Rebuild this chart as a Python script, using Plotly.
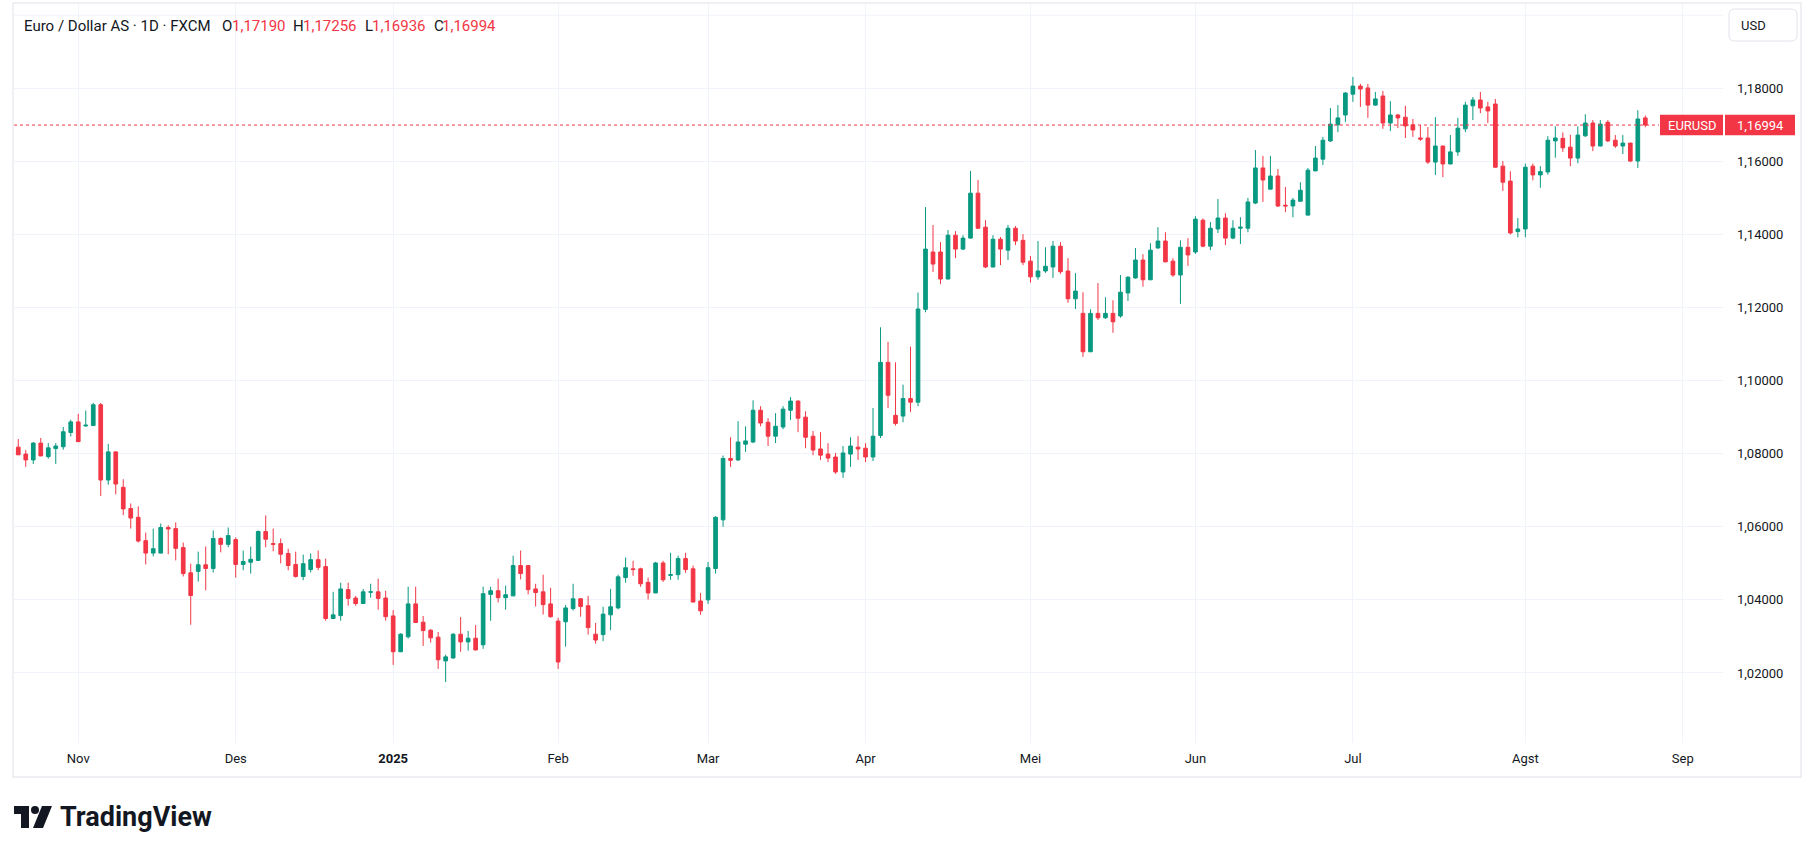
import pandas as pd
import plotly.graph_objects as go

# EUR/USD daily candles, FXCM, 22 Oct 2024 - 25 Aug 2025
opens = [
    1.0818, 1.0799, 1.0783, 1.0829, 1.0792, 1.0814, 1.0819, 1.0858, 1.0887, 1.0876,
    1.0877, 1.0934, 1.0728, 1.0805, 1.0708, 1.0650, 1.0626, 1.0562, 1.0528, 1.0528,
    1.0598, 1.0595, 1.0543, 1.0474, 1.0478, 1.0496, 1.0486, 1.0568, 1.0552, 1.0565,
    1.0497, 1.0503, 1.0508, 1.0587, 1.0554, 1.0554, 1.0527, 1.0497, 1.0464, 1.0483,
    1.0510, 1.0491, 1.0349, 1.0357, 1.0428, 1.0405, 1.0390, 1.0421, 1.0422, 1.0405,
    1.0356, 1.0258, 1.0299, 1.0389, 1.0339, 1.0317, 1.0298, 1.0233, 1.0241, 1.0306,
    1.0285, 1.0295, 1.0277, 1.0415, 1.0425, 1.0406, 1.0411, 1.0494, 1.0494, 1.0430,
    1.0422, 1.0389, 1.0342, 1.0340, 1.0376, 1.0403, 1.0384, 1.0306, 1.0305, 1.0359,
    1.0378, 1.0461, 1.0485, 1.0485, 1.0448, 1.0419, 1.0501, 1.0467, 1.0469, 1.0513,
    1.0485, 1.0397, 1.0400, 1.0486, 1.0619, 1.0787, 1.0783, 1.0826, 1.0832, 1.0919,
    1.0886, 1.0848, 1.0873, 1.0919, 1.0944, 1.0900, 1.0848, 1.0813, 1.0799, 1.0791,
    1.0750, 1.0799, 1.0818, 1.0815, 1.0791, 1.0850, 1.1050, 1.0905, 1.0903, 1.0951,
    1.0941, 1.1195, 1.1352, 1.1352, 1.1278, 1.1398, 1.1360, 1.1390, 1.1513, 1.1420,
    1.1311, 1.1387, 1.1357, 1.1417, 1.1384, 1.1327, 1.1284, 1.1300, 1.1311, 1.1368,
    1.1300, 1.1224, 1.1184, 1.1079, 1.1184, 1.1172, 1.1184, 1.1177, 1.1240, 1.1281,
    1.1330, 1.1276, 1.1363, 1.1382, 1.1327, 1.1289, 1.1365, 1.1352, 1.1439, 1.1368,
    1.1415, 1.1445, 1.1390, 1.1417, 1.1417, 1.1486, 1.1582, 1.1524, 1.1560, 1.1480,
    1.1478, 1.1491, 1.1453, 1.1574, 1.1606, 1.1656, 1.1700, 1.1727, 1.1784, 1.1806,
    1.1801, 1.1754, 1.1779, 1.1705, 1.1727, 1.1721, 1.1700, 1.1664, 1.1664, 1.1598,
    1.1642, 1.1593, 1.1626, 1.1689, 1.1752, 1.1768, 1.1749, 1.1757, 1.1587, 1.1546,
    1.1408, 1.1415, 1.1587, 1.1563, 1.1571, 1.1656, 1.1663, 1.1639, 1.1609, 1.1670,
    1.1705, 1.1642, 1.1707, 1.1658, 1.1642, 1.1650, 1.1601, 1.17190,
]
highs = [
    1.0840, 1.0810, 1.0832, 1.0843, 1.0829, 1.0829, 1.0873, 1.0893, 1.0909, 1.0918,
    1.0939, 1.0939, 1.0827, 1.0807, 1.0730, 1.0664, 1.0656, 1.0584, 1.0595, 1.0609,
    1.0604, 1.0612, 1.0557, 1.0499, 1.0532, 1.0546, 1.0590, 1.0571, 1.0598, 1.0571,
    1.0535, 1.0546, 1.0590, 1.0631, 1.0595, 1.0568, 1.0540, 1.0532, 1.0524, 1.0527,
    1.0535, 1.0513, 1.0422, 1.0447, 1.0447, 1.0411, 1.0430, 1.0444, 1.0458, 1.0425,
    1.0372, 1.0309, 1.0436, 1.0436, 1.0356, 1.0320, 1.0312, 1.0250, 1.0309, 1.0353,
    1.0315, 1.0331, 1.0436, 1.0436, 1.0458, 1.0439, 1.0521, 1.0535, 1.0495, 1.0444,
    1.0469, 1.0433, 1.0351, 1.0386, 1.0444, 1.0405, 1.0411, 1.0337, 1.0381, 1.0430,
    1.0469, 1.0516, 1.0507, 1.0488, 1.0461, 1.0504, 1.0507, 1.0529, 1.0521, 1.0529,
    1.0494, 1.0419, 1.0504, 1.0629, 1.0795, 1.0845, 1.0889, 1.0875, 1.0946, 1.0930,
    1.0897, 1.0911, 1.0930, 1.0955, 1.0946, 1.0916, 1.0862, 1.0859, 1.0829, 1.0802,
    1.0821, 1.0845, 1.0848, 1.0829, 1.0925, 1.1146, 1.1106, 1.1050, 1.0989, 1.1093,
    1.1241, 1.1475, 1.1426, 1.1379, 1.1412, 1.1409, 1.1398, 1.1574, 1.1549, 1.1439,
    1.1398, 1.1393, 1.1426, 1.1423, 1.1401, 1.1341, 1.1382, 1.1365, 1.1382, 1.1379,
    1.1335, 1.1294, 1.1242, 1.1195, 1.1267, 1.1228, 1.1220, 1.1289, 1.1286, 1.1363,
    1.1346, 1.1376, 1.1420, 1.1406, 1.1335, 1.1384, 1.1390, 1.1450, 1.1444, 1.1434,
    1.1497, 1.1458, 1.1439, 1.1447, 1.1500, 1.1631, 1.1615, 1.1615, 1.1579, 1.1530,
    1.1500, 1.1543, 1.1582, 1.1642, 1.1667, 1.1746, 1.1754, 1.1790, 1.1831, 1.1812,
    1.1812, 1.1790, 1.1793, 1.1765, 1.1730, 1.1752, 1.1716, 1.1700, 1.1694, 1.1721,
    1.1643, 1.1672, 1.1719, 1.1763, 1.1776, 1.1790, 1.1763, 1.1771, 1.1601, 1.1573,
    1.1445, 1.1594, 1.1594, 1.1587, 1.1669, 1.1696, 1.1679, 1.1673, 1.1696, 1.1729,
    1.1713, 1.1713, 1.1713, 1.1672, 1.1672, 1.1651, 1.1740, 1.17256,
]
lows = [
    1.0796, 1.0764, 1.0772, 1.0793, 1.0786, 1.0772, 1.0811, 1.0847, 1.0832, 1.0874,
    1.0876, 1.0684, 1.0715, 1.0689, 1.0632, 1.0595, 1.0557, 1.0497, 1.0519, 1.0527,
    1.0525, 1.0508, 1.0464, 1.0332, 1.0450, 1.0426, 1.0475, 1.0530, 1.0544, 1.0461,
    1.0481, 1.0472, 1.0507, 1.0544, 1.0533, 1.0500, 1.0481, 1.0461, 1.0454, 1.0475,
    1.0481, 1.0343, 1.0348, 1.0343, 1.0384, 1.0384, 1.0389, 1.0406, 1.0373, 1.0343,
    1.0222, 1.0257, 1.0294, 1.0337, 1.0274, 1.0283, 1.0211, 1.0175, 1.0239, 1.0258,
    1.0261, 1.0262, 1.0266, 1.0343, 1.0393, 1.0373, 1.0410, 1.0456, 1.0415, 1.0382,
    1.0360, 1.0351, 1.0211, 1.0272, 1.0371, 1.0354, 1.0305, 1.0280, 1.0287, 1.0317,
    1.0374, 1.0447, 1.0466, 1.0436, 1.0401, 1.0418, 1.0449, 1.0455, 1.0455, 1.0474,
    1.0393, 1.0359, 1.0389, 1.0472, 1.0600, 1.0764, 1.0780, 1.0805, 1.0829, 1.0875,
    1.0821, 1.0829, 1.0867, 1.0892, 1.0859, 1.0815, 1.0796, 1.0783, 1.0777, 1.0745,
    1.0734, 1.0764, 1.0783, 1.0777, 1.0780, 1.0843, 1.0925, 1.0877, 1.0886, 1.0914,
    1.0930, 1.1187, 1.1297, 1.1264, 1.1277, 1.1335, 1.1357, 1.1389, 1.1416, 1.1308,
    1.1310, 1.1316, 1.1330, 1.1371, 1.1316, 1.1268, 1.1276, 1.1295, 1.1281, 1.1292,
    1.1213, 1.1196, 1.1065, 1.1078, 1.1166, 1.1169, 1.1131, 1.1172, 1.1218, 1.1279,
    1.1257, 1.1275, 1.1361, 1.1324, 1.1284, 1.1210, 1.1314, 1.1347, 1.1365, 1.1357,
    1.1404, 1.1371, 1.1387, 1.1374, 1.1406, 1.1483, 1.1489, 1.1523, 1.1475, 1.1461,
    1.1447, 1.1490, 1.1452, 1.1573, 1.1590, 1.1653, 1.1680, 1.1708, 1.1763, 1.1749,
    1.1719, 1.1752, 1.1689, 1.1683, 1.1691, 1.1664, 1.1667, 1.1656, 1.1593, 1.1563,
    1.1557, 1.1592, 1.1615, 1.1680, 1.1713, 1.1732, 1.1705, 1.1583, 1.1519, 1.1400,
    1.1392, 1.1392, 1.1548, 1.1528, 1.1564, 1.1610, 1.1626, 1.1587, 1.1595, 1.1667,
    1.1628, 1.1641, 1.1653, 1.1637, 1.1620, 1.1598, 1.1582, 1.16936,
]
closes = [
    1.0797, 1.0783, 1.0829, 1.0794, 1.0816, 1.0821, 1.0860, 1.0887, 1.0833, 1.0878,
    1.0934, 1.0728, 1.0805, 1.0717, 1.0649, 1.0624, 1.0561, 1.0528, 1.0540, 1.0598,
    1.0594, 1.0541, 1.0472, 1.0412, 1.0496, 1.0486, 1.0568, 1.0552, 1.0576, 1.0497,
    1.0505, 1.0511, 1.0587, 1.0566, 1.0552, 1.0525, 1.0494, 1.0464, 1.0499, 1.0510,
    1.0489, 1.0349, 1.0359, 1.0430, 1.0404, 1.0390, 1.0422, 1.0422, 1.0404, 1.0354,
    1.0258, 1.0306, 1.0389, 1.0338, 1.0316, 1.0296, 1.0236, 1.0244, 1.0306, 1.0285,
    1.0295, 1.0263, 1.0417, 1.0425, 1.0406, 1.0414, 1.0494, 1.0472, 1.0428, 1.0420,
    1.0387, 1.0354, 1.0230, 1.0378, 1.0403, 1.0382, 1.0324, 1.0290, 1.0361, 1.0381,
    1.0463, 1.0488, 1.0483, 1.0444, 1.0419, 1.0501, 1.0455, 1.0469, 1.0513, 1.0483,
    1.0394, 1.0370, 1.0488, 1.0626, 1.0787, 1.0782, 1.0832, 1.0835, 1.0919, 1.0884,
    1.0848, 1.0875, 1.0922, 1.0944, 1.0897, 1.0845, 1.0810, 1.0796, 1.0788, 1.0750,
    1.0802, 1.0821, 1.0813, 1.0791, 1.0848, 1.1050, 1.0960, 1.0883, 1.0951, 1.0941,
    1.1196, 1.1360, 1.1319, 1.1278, 1.1398, 1.1360, 1.1390, 1.1513, 1.1417, 1.1311,
    1.1387, 1.1360, 1.1417, 1.1382, 1.1324, 1.1284, 1.1300, 1.1313, 1.1368, 1.1298,
    1.1224, 1.1245, 1.1079, 1.1184, 1.1172, 1.1184, 1.1161, 1.1242, 1.1283, 1.1330,
    1.1276, 1.1357, 1.1382, 1.1325, 1.1289, 1.1365, 1.1344, 1.1442, 1.1368, 1.1417,
    1.1445, 1.1390, 1.1417, 1.1420, 1.1489, 1.1582, 1.1549, 1.1560, 1.1478, 1.1478,
    1.1494, 1.1521, 1.1576, 1.1609, 1.1658, 1.1702, 1.1719, 1.1787, 1.1806, 1.1798,
    1.1754, 1.1771, 1.1705, 1.1727, 1.1719, 1.1697, 1.1686, 1.1661, 1.1598, 1.1642,
    1.1593, 1.1626, 1.1691, 1.1754, 1.1768, 1.1746, 1.1738, 1.1584, 1.1543, 1.1404,
    1.1415, 1.1584, 1.1563, 1.1572, 1.1658, 1.1664, 1.1637, 1.1609, 1.1672, 1.1705,
    1.1642, 1.1702, 1.1656, 1.1642, 1.1650, 1.1601, 1.1716, 1.16994,
]

# trading days: every weekday except the two days FXCM has no candle
no_trade = ["2024-12-25", "2025-01-01"]
days = pd.bdate_range("2024-10-22", "2025-08-25")
days = days[~days.isin(pd.to_datetime(no_trade))]
dates = days + pd.Timedelta(hours=12)  # centre each candle in its day

month_ticks = ["2024-11-01", "2024-12-02", "2025-01-02", "2025-02-03", "2025-03-03",
               "2025-04-01", "2025-05-01", "2025-06-02", "2025-07-01", "2025-08-01",
               "2025-09-01"]
month_labels = ["Nov", "Des", "<b>2025</b>", "Feb", "Mar", "Apr", "Mei", "Jun", "Jul",
                "Agst", "Sep"]
price_ticks = [1.02, 1.04, 1.06, 1.08, 1.10, 1.12, 1.14, 1.16, 1.18]

UP = "#089981"
DOWN = "#f23645"
GRID = "#f0f3fa"
TEXT = "#131722"
FONT = "Roboto"

W, H = 1813, 853
L, R, T, B = 14, 1723, 4, 743   # plot area in pixels


def px(x):
    return (x - L) / (R - L)


def py(y):
    return (B - y) / (B - T)


def fmt(v):
    return f"{v:.5f}".replace(".", ",")


fig = go.Figure(go.Candlestick(
    x=dates, open=opens, high=highs, low=lows, close=closes,
    increasing=dict(line=dict(color=UP, width=1), fillcolor=UP),
    decreasing=dict(line=dict(color=DOWN, width=1), fillcolor=DOWN),
    whiskerwidth=0, hoverinfo="skip", showlegend=False,
))

fig.update_layout(
    width=W, height=H,
    margin=dict(l=L, r=W - R, t=T, b=H - B),
    paper_bgcolor="white", plot_bgcolor="white",
    separators=",.",
    font=dict(family=FONT, size=13, color=TEXT),
    xaxis=dict(
        type="date",
        range=["2024-10-21 22:20", "2025-09-08 20:40"],
        rangebreaks=[dict(bounds=["sat", "mon"]), dict(values=no_trade)],
        rangeslider=dict(visible=False),
        tickvals=[pd.Timestamp(d) + pd.Timedelta(hours=12) for d in month_ticks],
        ticktext=month_labels,
        showgrid=True, gridcolor=GRID, gridwidth=1,
        zeroline=False, showline=False, ticks="",
        tickfont=dict(size=13, color=TEXT),
        ticklabelstandoff=6,
    ),
    yaxis=dict(
        side="right",
        range=[1.00083, 1.20307],
        tickvals=price_ticks,
        tickformat=".5f",
        showgrid=True, gridcolor=GRID, gridwidth=1,
        zeroline=False, showline=False, ticks="",
        tickfont=dict(size=13, color=TEXT),
        ticklabelstandoff=13,
    ),
)

shapes = []
# grid line at 1,20000 (its label is hidden behind the USD button)
shapes.append(dict(type="line", xref="paper", yref="y", x0=0, x1=1, y0=1.20, y1=1.20,
                   line=dict(color=GRID, width=1), layer="below"))
# outer frame
shapes.append(dict(type="rect", xref="paper", yref="paper",
                   x0=px(13), x1=px(1801), y0=py(777), y1=py(3),
                   line=dict(color="#e9ebef", width=1.5)))
# current price line and tag
last = closes[-1]
shapes.append(dict(type="line", xref="paper", yref="y", x0=0, x1=px(1659),
                   y0=last, y1=last, line=dict(color=DOWN, width=1, dash="dot")))
shapes.append(dict(type="rect", xref="paper", yref="y", x0=px(1660), x1=px(1723),
                   y0=last - 0.0028, y1=last + 0.0028, fillcolor=DOWN, line_width=0))
shapes.append(dict(type="rect", xref="paper", yref="y", x0=px(1725), x1=px(1795),
                   y0=last - 0.0028, y1=last + 0.0028, fillcolor=DOWN, line_width=0))


def rounded(x0, y0, x1, y1, r):
    rx, ry = r / (R - L), r / (B - T)
    a, b, c, d = px(x0), py(y0), px(x1), py(y1)
    return (f"M{a + rx},{b} L{c - rx},{b} Q{c},{b} {c},{b - ry} L{c},{d + ry} "
            f"Q{c},{d} {c - rx},{d} L{a + rx},{d} Q{a},{d} {a},{d + ry} "
            f"L{a},{b - ry} Q{a},{b} {a + rx},{b} Z")


# USD button
shapes.append(dict(type="path", xref="paper", yref="paper",
                   path=rounded(1729, 9, 1797, 41, 6),
                   fillcolor="white", line=dict(color="#e0e3eb", width=1)))

# TradingView logo mark
lx, ly = 14, 806
shapes.append(dict(type="path", xref="paper", yref="paper",
                   path=(f"M{px(lx)},{py(ly)} L{px(lx + 15)},{py(ly)} L{px(lx + 15)},{py(ly + 22)} "
                         f"L{px(lx + 7)},{py(ly + 22)} L{px(lx + 7)},{py(ly + 8)} L{px(lx)},{py(ly + 8)} Z"),
                   fillcolor=TEXT, line_width=0))
shapes.append(dict(type="circle", xref="paper", yref="paper",
                   x0=px(lx + 17), x1=px(lx + 25), y0=py(ly + 8), y1=py(ly),
                   fillcolor=TEXT, line_width=0))
shapes.append(dict(type="path", xref="paper", yref="paper",
                   path=(f"M{px(lx + 28)},{py(ly)} L{px(lx + 38)},{py(ly)} L{px(lx + 29)},{py(ly + 22)} "
                         f"L{px(lx + 19)},{py(ly + 22)} Z"),
                   fillcolor=TEXT, line_width=0))
fig.update_layout(shapes=shapes)

ann = []


def label(x, y, text, color=TEXT, size=13, anchor="left", bold=False):
    ann.append(dict(xref="paper", yref="paper", x=px(x), y=py(y), text=f"<b>{text}</b>" if bold else text,
                    showarrow=False, xanchor=anchor, yanchor="middle",
                    font=dict(family=FONT, size=size, color=color)))


# legend line with the last candle's values
label(22, 26, "Euro / Dollar AS · 1D · FXCM", size=15)
for letter, lx0, val, vx in [("O", 220, opens[-1], 230), ("H", 291, highs[-1], 301),
                             ("L", 363, lows[-1], 370), ("C", 432, closes[-1], 440)]:
    label(lx0, 26, letter, size=15)
    label(vx, 26, fmt(val), color=DOWN, size=15)

label(1739, 25, "USD")
ann.append(dict(xref="paper", yref="y", x=px(1692), y=last, text="EURUSD", showarrow=False,
                xanchor="center", yanchor="middle", font=dict(family=FONT, size=13, color="white")))
ann.append(dict(xref="paper", yref="y", x=px(1735), y=last, text=fmt(last), showarrow=False,
                xanchor="left", yanchor="middle", font=dict(family=FONT, size=13, color="white")))
label(58, 817, "TradingView", size=27, bold=True)
fig.update_layout(annotations=ann)

# the page body gets no default margin, so the figure sits at the window's corner
fig.write_html("out.html", config={"displayModeBar": False},
               post_script="document.body.style.margin='0';")
